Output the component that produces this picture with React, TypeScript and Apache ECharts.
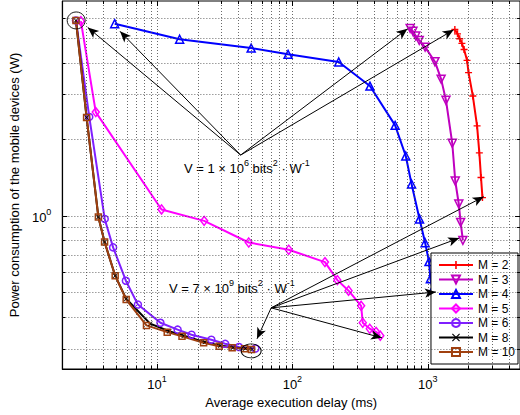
import React, { useEffect, useRef } from 'react';
import * as echarts from 'echarts';

const FONT = '"Liberation Sans", Arial, Helvetica, sans-serif';

// axis limits
const X_MIN = 2;
const X_MAX = 4800;
const Y_MIN = 0.25;
const Y_MAX = 7;

// series
const seriesNames = ['M = 2', 'M = 3', 'M = 4', 'M = 5', 'M = 6', 'M = 8', 'M = 10'];

const m2Delay = [1585, 1658, 1722, 1787, 1854, 1950, 2001, 2153, 2313, 2404, 2473, 2535];
const m2Power = [5.41, 5.2, 4.97, 4.77, 4.51, 4.09, 3.66, 2.96, 2.26, 1.77, 1.416, 1.18];

const m3Delay = [741, 777, 816, 865, 956, 1130, 1255, 1363, 1517, 1596, 1695, 1749, 1817];
const m3Power = [5.46, 5.32, 5.1, 4.9, 4.61, 4.04, 3.45, 2.85, 1.93, 1.372, 1.114, 0.943, 0.801];

const m4Delay = [4.87, 14.7, 49.6, 92.9, 220, 374, 574, 688, 759, 869, 956, 1021, 1045, 1087];
const m4Power = [5.7, 4.95, 4.57, 4.32, 4.03, 3.24, 2.27, 1.72, 1.335, 0.973, 0.784, 0.661, 0.566, 0.513];

const m5Delay = [2.74, 3.53, 10.8, 22.3, 47.6, 94.0, 174, 215, 260, 322, 331, 373, 415, 446];
const m5Power = [5.83, 2.56, 1.06, 0.956, 0.786, 0.736, 0.658, 0.559, 0.508, 0.443, 0.38, 0.36, 0.35, 0.338];

const m6Delay = [2.52, 3.16, 4.11, 4.74, 5.89, 7.23, 10.6, 14.2, 18.0, 25.2, 31.9, 40.3, 53.3];
const m6Power = [5.87, 2.45, 0.973, 0.752, 0.556, 0.448, 0.38, 0.357, 0.341, 0.326, 0.314, 0.305, 0.301];

const m8Delay = [2.52, 3.02, 3.69, 4.1, 4.91, 5.92, 8.9, 12.3, 15.8, 22.6, 29.3, 36.5, 45, 50.5];
const m8Power = [5.87, 2.44, 0.99, 0.789, 0.582, 0.472, 0.377, 0.352, 0.338, 0.319, 0.309, 0.304, 0.301, 0.299];

const m10Delay = [2.52, 3.02, 3.69, 4.1, 4.91, 5.92, 8.36, 11.9, 15.3, 22.1, 28.8, 35.9, 44.4, 49.9];
const m10Power = [5.87, 2.44, 0.99, 0.789, 0.582, 0.469, 0.371, 0.349, 0.336, 0.317, 0.307, 0.303, 0.3, 0.298];

// grid / ticks
const xGridValues = [3, 4, 5, 6, 7, 8, 9, 10, 20, 30, 40, 50, 60, 70, 80, 90, 100, 200, 300, 400, 500, 600, 700, 800, 900, 1000, 2000, 3000, 4000];
const yGridValues = [0.3, 0.4, 0.5, 0.6, 0.7, 0.8, 0.9, 1, 2, 3, 4, 5, 6];
const xMajorTicks = [10, 100, 1000];
const yMajorTicks = [1];

// annotations (data coordinates)
const arrow1Source = [41.5, 1.735];
const arrow1Targets = [[3.08, 5.51], [5.33, 5.32], [708, 5.44], [1553, 5.39]];
const arrow2Source = [69.7, 0.435];
const arrow2Targets = [[54.8, 0.3286], [459, 0.3314], [1148, 0.502], [1706, 0.818], [2588, 1.19]];
const circleMarks = [
  { at: [2.53, 5.87], size: [18, 17] },
  { at: [49.6, 0.2946], size: [20, 14] },
];

const zip = (a: number[], b: number[]) => a.map((v, i) => [v, b[i]]);

const PLUS = 'path://M4,0H6V4H10V6H6V10H4V6H0V4H4Z';
const XMARK = 'path://M0,1L1,0L5,4L9,0L10,1L6,5L10,9L9,10L5,6L1,10L0,9L4,5Z';
const DOWNTRI = 'path://M0,0L10,0L5,9Z';

function mkSeries(name: string, xs: number[], ys: number[], color: string, symbol: string, size: any, hollow: boolean) {
  return {
    name,
    type: 'line',
    data: zip(xs, ys),
    symbol,
    symbolSize: size,
    showAllSymbol: true,
    lineStyle: { color, width: 2 },
    itemStyle: hollow
      ? { color: 'none', borderColor: color, borderWidth: 1.5 }
      : { color, borderWidth: 0 },
    emphasis: { disabled: true },
    silent: true,
    z: 3,
  };
}

const isPow10 = (v: number) => {
  const l = Math.log10(v);
  return Math.abs(l - Math.round(l)) < 1e-6;
};

export default function App() {
  const ref = useRef<HTMLDivElement>(null);
  useEffect(() => {
    if (!ref.current) return;
    const chart = echarts.init(ref.current, undefined, { renderer: 'svg' });

    const fy = (len: number) => Math.pow(10, len / 254);
    const fx = (len: number) => Math.pow(10, len / 138);
    const tickSegs: any[] = [];
    xGridValues.forEach((v) => {
      const len = xMajorTicks.includes(v) ? 5 : 3;
      tickSegs.push([{ coord: [v, Y_MIN] }, { coord: [v, Y_MIN * fy(len)] }]);
      tickSegs.push([{ coord: [v, Y_MAX] }, { coord: [v, Y_MAX / fy(len)] }]);
    });
    yGridValues.forEach((v) => {
      const len = yMajorTicks.includes(v) ? 5 : 3;
      tickSegs.push([{ coord: [X_MIN, v] }, { coord: [X_MIN * fx(len), v] }]);
      tickSegs.push([{ coord: [X_MAX, v] }, { coord: [X_MAX / fx(len), v] }]);
    });

    const arrows: any[] = [];
    arrow1Targets.forEach((t) => arrows.push([{ coord: arrow1Source }, { coord: t }]));
    arrow2Targets.forEach((t) => arrows.push([{ coord: arrow2Source }, { coord: t }]));

    const supRich = {
      b: { fontSize: 13, fontFamily: FONT, color: '#000', lineHeight: 17, verticalAlign: 'bottom' },
      s: { fontSize: 9, fontFamily: FONT, color: '#000', lineHeight: 9, verticalAlign: 'top' },
    };

    const option: any = {
      animation: false,
      backgroundColor: '#fff',
      grid: {
        left: 53,
        top: 1,
        width: 467,
        height: 368,
        show: true,
        borderColor: '#000',
        borderWidth: 1,
        backgroundColor: 'transparent',
      },
      xAxis: {
        type: 'log',
        logBase: 10,
        min: X_MIN,
        max: X_MAX,
        name: 'Average execution delay (ms)',
        nameLocation: 'middle',
        nameGap: 23,
        nameTextStyle: { fontSize: 13, fontFamily: FONT, color: '#000' },
        axisLine: { show: true, lineStyle: { color: '#000', width: 1.2 } },
        axisTick: { show: false },
        splitLine: { show: false },
        axisLabel: {
          margin: 5,
          showMinLabel: false,
          showMaxLabel: false,
          formatter: (v: number) => (isPow10(v) ? `{b|10}{s|${Math.round(Math.log10(v))}}` : ''),
          rich: supRich,
        },
      },
      yAxis: {
        type: 'log',
        logBase: 10,
        min: Y_MIN,
        max: Y_MAX,
        name: 'Power consumption of the mobile devices (W)',
        nameLocation: 'middle',
        nameGap: 37,
        nameTextStyle: { fontSize: 13, fontFamily: FONT, color: '#000' },
        axisLine: { show: true, lineStyle: { color: '#000', width: 1.2 } },
        axisTick: { show: false },
        splitLine: { show: false },
        axisLabel: {
          margin: 11,
          showMinLabel: false,
          showMaxLabel: false,
          formatter: (v: number) => (isPow10(v) ? `{b|10}{s|${Math.round(Math.log10(v))}}` : ''),
          rich: supRich,
        },
      },
      legend: {
        orient: 'vertical',
        right: 2,
        top: 253,
        data: seriesNames,
        backgroundColor: '#fff',
        borderColor: '#000',
        borderWidth: 1,
        padding: [5, 3, 5, 7],
        itemWidth: 34,
        itemHeight: 10,
        itemGap: 0.5,
        itemTextGap: 3,
        textStyle: { fontSize: 12, fontFamily: FONT, color: '#000', lineHeight: 14 },
        selectedMode: false,
      },
      series: [
        {
          name: 'grid',
          type: 'line',
          data: [],
          silent: true,
          z: 1,
          markLine: {
            silent: true,
            symbol: 'none',
            label: { show: false },
            animation: false,
            lineStyle: { color: '#444', width: 0.8, type: [1, 2] },
            data: [
              ...xGridValues.map((v) => ({ xAxis: v })),
              ...yGridValues.map((v) => ({ yAxis: v })),
            ],
          },
        },
        {
          name: 'ticks',
          type: 'line',
          data: [],
          silent: true,
          z: 2,
          markLine: {
            silent: true,
            symbol: 'none',
            label: { show: false },
            animation: false,
            lineStyle: { color: '#000', width: 1, type: 'solid' },
            data: tickSegs,
          },
        },
        mkSeries(seriesNames[0], m2Delay, m2Power, '#FF0000', PLUS, 7, false),
        mkSeries(seriesNames[1], m3Delay, m3Power, '#BF00BF', DOWNTRI, 8, true),
        mkSeries(seriesNames[2], m4Delay, m4Power, '#0000FF', 'triangle', 8, true),
        mkSeries(seriesNames[3], m5Delay, m5Power, '#FF00FF', 'diamond', [7, 9], true),
        mkSeries(seriesNames[4], m6Delay, m6Power, '#7F1FFF', 'circle', 7, true),
        mkSeries(seriesNames[5], m8Delay, m8Power, '#000000', XMARK, 5, false),
        mkSeries(seriesNames[6], m10Delay, m10Power, '#A0400F', 'rect', 6, true),
        {
          name: 'annot',
          type: 'line',
          data: [[10, 1]],
          symbol: 'none',
          lineStyle: { width: 0 },
          silent: true,
          z: 5,
          markLine: {
            silent: true,
            symbol: ['none', 'arrow'],
            symbolSize: [7, 11],
            label: { show: false },
            animation: false,
            lineStyle: { color: '#000', width: 1, type: 'solid' },
            data: arrows,
          },
          markPoint: {
            silent: true,
            animation: false,
            label: { show: false },
            data: circleMarks.map((c) => ({
              coord: c.at,
              symbol: 'circle',
              symbolSize: c.size,
              itemStyle: { color: 'none', borderColor: '#000', borderWidth: 0.9 },
            })),
          },
        },
      ],
      graphic: [
        {
          type: 'text',
          left: 184,
          top: 158,
          silent: true,
          style: {
            text: '{b|V = 1 × 10}{s|6}{b| bits}{s|2}{b| · W}{s|-1}',
            rich: supRich,
          },
        },
        {
          type: 'text',
          left: 169,
          top: 278,
          silent: true,
          style: {
            text: '{b|V = 7 × 10}{s|9}{b| bits}{s|2}{b| · W}{s|-1}',
            rich: supRich,
          },
        },
      ],
    };

    chart.setOption(option);
    return () => chart.dispose();
  }, []);

  return (
    <div
      ref={ref}
      style={{ position: 'absolute', left: 0, top: 0, width: 520, height: 415, background: '#fff' }}
    />
  );
}
